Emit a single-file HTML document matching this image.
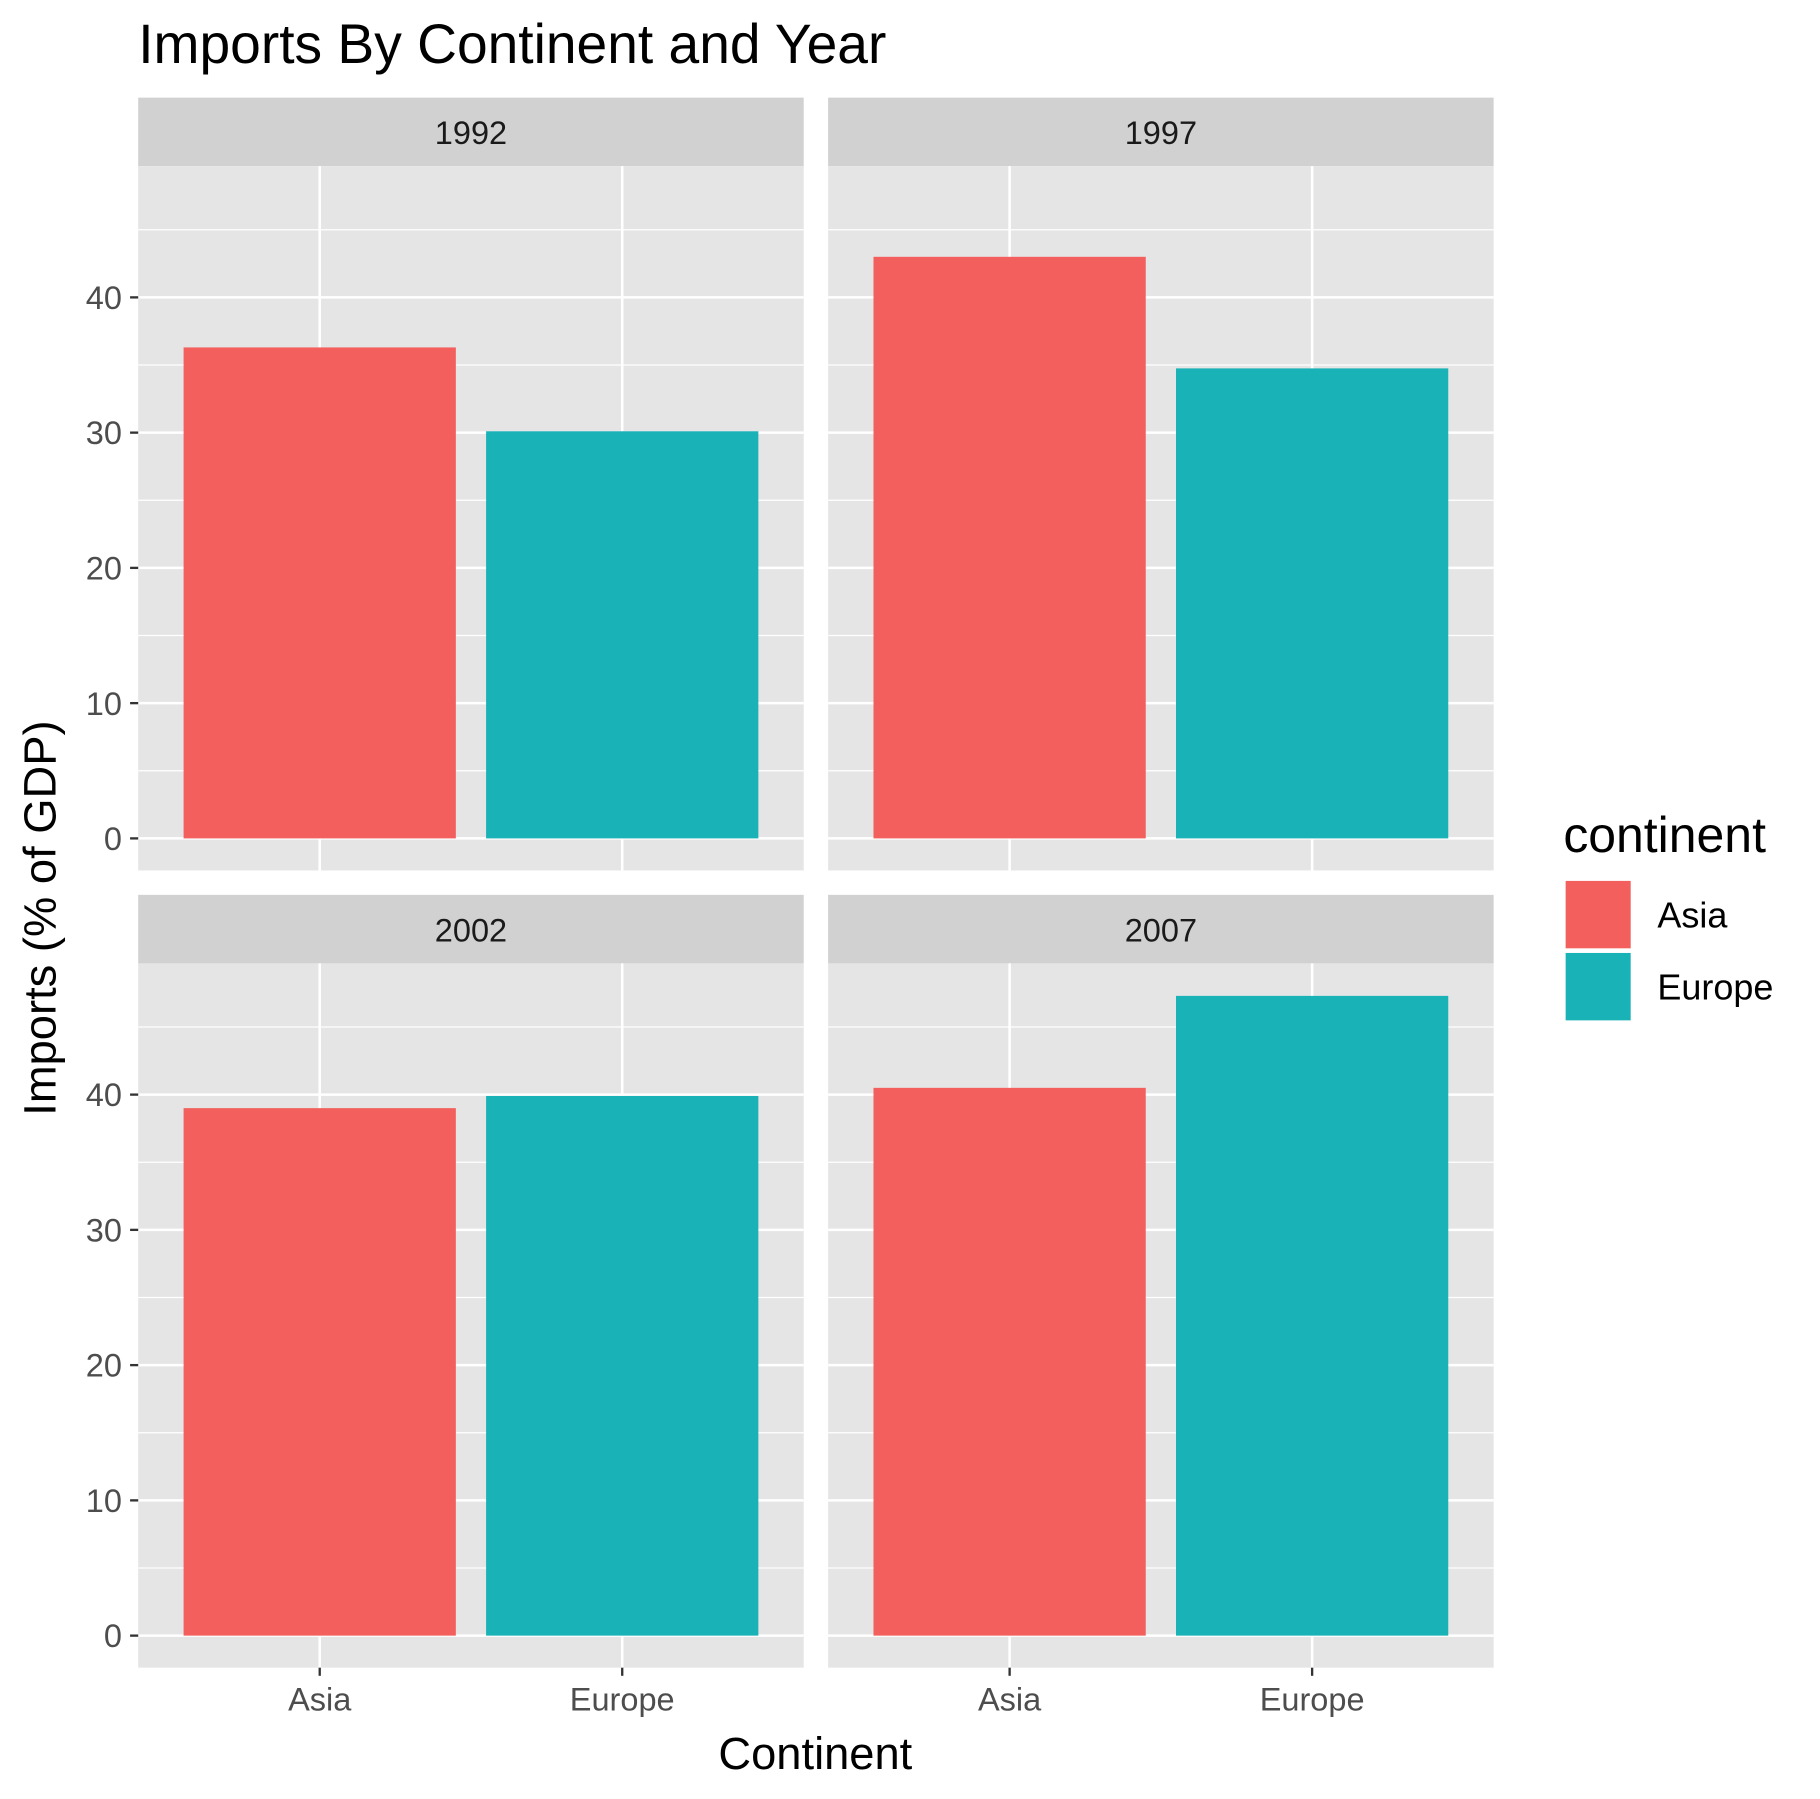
<!DOCTYPE html>
<html><head><meta charset="utf-8"><style>html,body{margin:0;padding:0;background:#fff}svg{display:block}</style></head>
<body>
<svg id="chart" width="1820" height="1799" viewBox="0 0 1567 1548" preserveAspectRatio="none" xmlns="http://www.w3.org/2000/svg" font-family="Liberation Sans, sans-serif">
<text x="119" y="54" font-size="47.5" fill="#000">Imports By Continent and Year</text>
<text transform="translate(48,790) rotate(-90)" text-anchor="middle" font-size="39" fill="#000">Imports (% of GDP)</text>
<text x="702" y="1522" text-anchor="middle" font-size="39" fill="#000">Continent</text>
<g id="panels"></g>
<g>
<text x="1346" y="733" font-size="43" fill="#000">continent</text>
<rect x="1347" y="757" width="58" height="60" stroke="#fff" stroke-width="2" style="fill:#F25F5C"/>
<rect x="1347" y="819" width="58" height="60" fill="#19B2B7" stroke="#fff" stroke-width="2"/>
<text x="1427" y="798" font-size="31" fill="#000">Asia</text>
<text x="1427" y="860" font-size="31" fill="#000">Europe</text>
</g>
</svg>
<script>
const years = ["1992","1997","2002","2007"];
const categories = ["Asia","Europe"];
const asiaValues = [36.3, 43.0, 39.0, 40.5];
const europeValues = [30.1, 34.75, 39.9, 47.3];
const yTicks = [0,10,20,30,40];
const yTickLabels = ["0","10","20","30","40"];
const colors = ["#F25F5C","#19B2B7"];
const NS="http://www.w3.org/2000/svg";
const g=document.getElementById("panels");
function el(tag,attrs,parent){const e=document.createElementNS(NS,tag);for(const k in attrs)e.setAttribute(k,attrs[k]);(parent||g).appendChild(e);return e;}
const panelsPos=[[119,84],[713,84],[119,770],[713,770]];
const PW=573, SH=59, PH=606;
const yMin=-2.37, yMax=49.7;
years.forEach((yr,i)=>{
  const [px,sy]=panelsPos[i]; const py=sy+SH;
  const yS=v=>py+PH-(v-yMin)/(yMax-yMin)*PH;
  const unit=PW/2.2;
  const xS=j=>px+(j+0.6)*unit;
  const strip=el("rect",{x:px,y:sy,width:PW,height:SH,fill:"#D1D1D1"});
  
  
  const st=el("text",{x:px+PW/2,y:sy+40,"text-anchor":"middle","font-size":"28",fill:"#1A1A1A"});
  st.textContent=yr;
  
  
  const bg=el("rect",{x:px,y:py,width:PW,height:PH,fill:"#E5E5E5"});
  
  
  for(let v=5;v<yMax;v+=10){el("line",{x1:px,x2:px+PW,y1:yS(v),y2:yS(v),stroke:"#fff","stroke-width":1.1});}
  yTicks.forEach(v=>el("line",{x1:px,x2:px+PW,y1:yS(v),y2:yS(v),stroke:"#fff","stroke-width":2.2}));
  categories.forEach((c,j)=>el("line",{x1:xS(j),x2:xS(j),y1:py,y2:py+PH,stroke:"#fff","stroke-width":2.2}));
  [asiaValues,europeValues].forEach((arr,j)=>{
    const bw=0.9*unit;
    const b=el("rect",{x:xS(j)-bw/2,y:yS(arr[i]),width:bw,height:yS(0)-yS(arr[i]),fill:colors[j]});
    
    
  });
  if(i%2===0){
    yTicks.forEach((v,k)=>{
      el("line",{x1:px-7,x2:px,y1:yS(v),y2:yS(v),stroke:"#333","stroke-width":2});
      const t=el("text",{x:px-14,y:yS(v)+10,"text-anchor":"end","font-size":"28",fill:"#4D4D4D"});
      t.textContent=yTickLabels[k];
      
      
    });
  }
  if(i>=2){
    categories.forEach((c,j)=>{
      el("line",{x1:xS(j),x2:xS(j),y1:py+PH,y2:py+PH+7,stroke:"#333","stroke-width":2});
      const t=el("text",{x:xS(j),y:py+PH+37,"text-anchor":"middle","font-size":"28",fill:"#4D4D4D"});
      t.textContent=c;
      
      
    });
  }
});
</script>
</body></html>
